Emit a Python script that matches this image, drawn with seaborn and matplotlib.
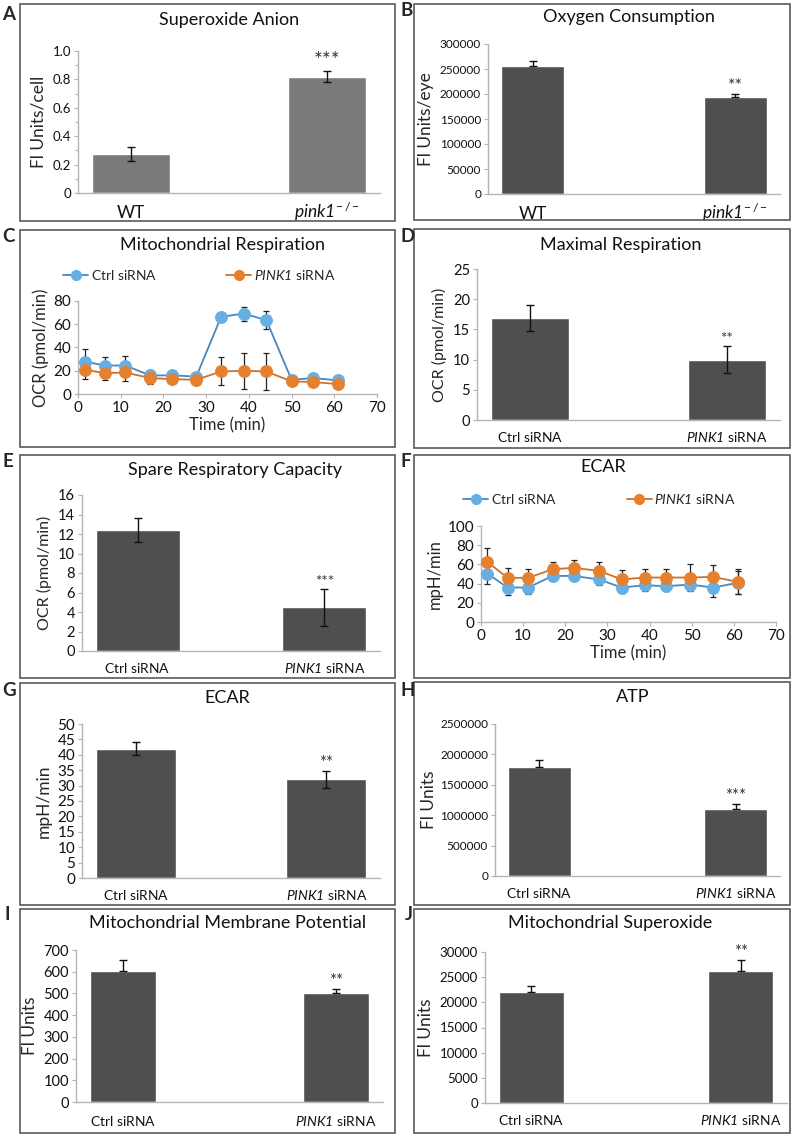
import matplotlib
matplotlib.use("Agg")
import matplotlib.pyplot as plt
from matplotlib.patches import Rectangle
from matplotlib.lines import Line2D
from matplotlib.ticker import MultipleLocator, FuncFormatter
import pandas as pd
import seaborn as sns

sns.set_theme(style="white")
plt.rcParams["font.family"] = ["Lato", "DejaVu Sans"]
plt.rcParams["mathtext.fontset"] = "custom"
plt.rcParams["mathtext.rm"] = "Lato"
plt.rcParams["mathtext.it"] = "Lato:italic"
plt.rcParams["mathtext.sf"] = "Lato:italic"   # \mathsf = italic incl. digits
plt.rcParams["mathtext.bf"] = "Lato:bold"

# ---------------- data ----------------
# all labels in mathtext so the italic ones line up with the plain ones
wt_groups = [r"$\mathrm{WT}$", r"$\mathsf{pink1}^{\!-/-}$"]
si_groups = [r"$\mathrm{Ctrl\ siRNA}$", r"$\mathsf{PINK1}\ \mathrm{siRNA}$"]

superoxide_anion = [0.275, 0.82]
superoxide_anion_err = [0.048, 0.04]

oxygen_consumption = [257000, 194000]
oxygen_consumption_err = [9000, 7000]

maximal_resp = [16.9, 10.0]
maximal_resp_err = [2.2, 2.2]

spare_capacity = [12.4, 4.5]
spare_capacity_err = [1.2, 1.9]

ecar_bar = [42.0, 32.0]
ecar_bar_err = [2.0, 2.8]

atp = [1800000, 1100000]
atp_err = [100000, 80000]

membrane_potential = [605, 502]
membrane_potential_err = [47, 18]

mito_superoxide = [22000, 26300]
mito_superoxide_err = [1250, 2200]

ocr_time = [1.6, 6.3, 11.1, 16.9, 22.0, 27.7, 33.5, 38.8, 44.1, 50.0, 55.1, 60.8]
ocr_ctrl = [27.9, 24.5, 24.5, 16.0, 16.0, 15.0, 66.4, 69.2, 63.5, 12.2, 13.7, 11.7]
ocr_ctrl_err = [11, 7.5, 8, 5, 3.5, 3, 2.5, 6, 7.5, 2, 2, 2]
ocr_pink1 = [20.8, 18.0, 18.5, 13.7, 12.8, 12.2, 19.4, 20.0, 19.4, 10.8, 10.3, 8.5]
ocr_pink1_err = [8, 6, 7, 5, 3, 3, 12, 15.5, 16, 2, 2, 2]

ecar_time = [1.5, 6.3, 11.2, 17.0, 22.0, 28.0, 33.4, 38.8, 44.0, 49.6, 55.1, 60.9]
ecar_ctrl = [50.5, 35.9, 35.9, 48.0, 48.0, 44.3, 35.9, 38.3, 37.3, 39.0, 35.9, 40.8]
ecar_ctrl_err = [10.5, 7.3, 7, 4, 3, 5.3, 5.2, 6, 5, 6, 10, 12]
ecar_pink1 = [62.7, 46.0, 46.0, 55.0, 56.4, 53.3, 44.3, 46.3, 46.3, 46.3, 47.0, 41.8]
ecar_pink1_err = [14, 10.4, 9, 7.7, 8, 9.4, 9.7, 8.7, 8.7, 14, 12, 13]

BAR_LIGHT = "#7a7a7a"
BAR_DARK = "#4f4f4f"
CTRL_LINE, CTRL_MARK = "#4a86bf", "#67aee3"
PINK_LINE, PINK_MARK = "#c9722c", "#e5802f"
SPINE = "#b4b4b4"

W, H = 800, 1140
fig = plt.figure(figsize=(W / 100, H / 100), dpi=100)


def px_axes(x0, y0, x1, y1):
    return fig.add_axes([x0 / W, 1 - y1 / H, (x1 - x0) / W, (y1 - y0) / H])


def panel_box(letter, x0, y0, x1, y1, lx, ly):
    fig.add_artist(Rectangle((x0 / W, 1 - y1 / H), (x1 - x0) / W, (y1 - y0) / H,
                             transform=fig.transFigure, fill=False,
                             ec="#5a5a5a", lw=1.2))
    fig.text(lx / W, 1 - ly / H, letter, fontsize=13.5, fontweight="bold",
             ha="left", va="center")


def title(text, cx, cy):
    fig.text(cx / W, 1 - cy / H, text, fontsize=13, ha="center", va="center",
             color="#111111")


def style_axes(ax, labelsize):
    sns.despine(ax=ax)
    for s in ("left", "bottom"):
        ax.spines[s].set_color(SPINE)
        ax.spines[s].set_linewidth(1.0)
    ax.tick_params(axis="y", which="both", left=True, length=3, width=0.8,
                   color=SPINE, labelsize=labelsize, labelcolor="#111111",
                   pad=2)
    ax.tick_params(axis="y", which="minor", length=2)


def bar_panel(ax, groups, vals, errs, color, width, step, ymax, ylabel,
              star, star_size, one_sided=False, ytick_size=9, xlab_size=10,
              xpad=10, minor=None, fmt=None, ylab_size=12.5, ylab_pad=4):
    df = pd.DataFrame({"group": groups, "value": vals})
    sns.barplot(data=df, x="group", y="value", ax=ax, color=color,
                width=width, saturation=1, errorbar=None)
    yerr = [[0, 0], errs] if one_sided else errs
    ax.errorbar([0, 1], vals, yerr=yerr, fmt="none", ecolor="#111111",
                elinewidth=1, capsize=3, capthick=1, zorder=3)
    ax.set_ylim(0, ymax)
    ax.yaxis.set_major_locator(MultipleLocator(step))
    if minor:
        ax.yaxis.set_minor_locator(MultipleLocator(minor))
    if fmt:
        ax.yaxis.set_major_formatter(FuncFormatter(fmt))
    else:
        ax.yaxis.set_major_formatter(FuncFormatter(lambda v, p: f"{v:.0f}"))
    ax.set_xlabel("")
    ax.set_ylabel(ylabel, fontsize=ylab_size, labelpad=ylab_pad)
    style_axes(ax, ytick_size)
    ax.tick_params(axis="x", bottom=False, labelsize=xlab_size, pad=xpad,
                   labelcolor="#111111")
    # align category labels on their baseline
    for lab in ax.get_xticklabels():
        lab.set_verticalalignment("baseline")
    ax.annotate(star, (1, vals[1] + errs[1]), xytext=(0, 0),
                textcoords="offset points", ha="center", va="bottom",
                fontsize=star_size, color="#333333")


def line_panel(ax, t, ctrl, ctrl_err, pink, pink_err, ymax, step, ylabel,
               leg_xy):
    for vals, errs, lc, mc in ((ctrl, ctrl_err, CTRL_LINE, CTRL_MARK),
                               (pink, pink_err, PINK_LINE, PINK_MARK)):
        ax.errorbar(t, vals, yerr=errs, fmt="none", ecolor="#222222",
                    elinewidth=0.9, capsize=2.5, capthick=0.9, zorder=2)
        sns.lineplot(x=t, y=vals, ax=ax, color=lc, lw=1.3, marker="o",
                     markersize=8.5, markerfacecolor=mc, markeredgecolor=mc,
                     zorder=3)
    ax.set_xlim(0, 70)
    ax.set_ylim(0, ymax)
    ax.xaxis.set_major_locator(MultipleLocator(10))
    ax.yaxis.set_major_locator(MultipleLocator(step))
    ax.set_ylabel(ylabel, fontsize=12, labelpad=3)
    ax.set_xlabel("Time (min)", fontsize=12, labelpad=2)
    style_axes(ax, 11)
    ax.tick_params(axis="x", bottom=True, length=3, width=0.8, color=SPINE,
                   labelsize=11, labelcolor="#111111", pad=2)
    handles = [Line2D([], [], color=CTRL_LINE, lw=1.3, marker="o", ms=7,
                      mfc=CTRL_MARK, mec=CTRL_MARK),
               Line2D([], [], color=PINK_LINE, lw=1.3, marker="o", ms=7,
                      mfc=PINK_MARK, mec=PINK_MARK)]
    ax.legend(handles, si_groups, ncol=2, frameon=False, loc="center left",
              bbox_to_anchor=leg_xy, borderaxespad=0, borderpad=0,
              handlelength=1.8, handletextpad=0.2, columnspacing=5.0,
              fontsize=10)


# ---------------- panel frames, letters, titles ----------------
panel_box("A", 20, 4, 395, 221, 2, 15)
panel_box("B", 414, 4, 790, 220, 401, 11)
panel_box("C", 20, 230, 395, 447, 2, 237)
panel_box("D", 414, 229, 790, 448, 401, 236)
panel_box("E", 20, 455, 395, 678, 2, 462)
panel_box("F", 414, 455, 790, 678, 401, 462)
panel_box("G", 20, 683, 395, 905, 2, 690)
panel_box("H", 414, 682, 790, 905, 401, 690)
panel_box("I", 20, 909, 395, 1133, 4, 914)
panel_box("J", 414, 909, 790, 1133, 405, 914)

title("Superoxide Anion", 229, 20)
title("Oxygen Consumption", 629, 17)
title("Mitochondrial Respiration", 223, 245)
title("Maximal Respiration", 621, 245)
title("Spare Respiratory Capacity", 235, 470)
title("ECAR", 603, 467)
title("ECAR", 227, 698)
title("ATP", 633, 697)
title("Mitochondrial Membrane Potential", 228, 923)
title("Mitochondrial Superoxide", 610, 923)

# ---------------- A ----------------
ax = px_axes(78, 51, 380, 193)
bar_panel(ax, wt_groups, superoxide_anion, superoxide_anion_err, BAR_LIGHT,
          0.4, 0.2, 1.0, "Fl Units/cell", "***", 15, ytick_size=9.5,
          xlab_size=12.5, xpad=12, minor=0.1,
          fmt=lambda v, p: "0" if v == 0 else f"{v:.1f}")

# ---------------- B ----------------
ax = px_axes(488, 44, 780, 194)
bar_panel(ax, wt_groups, oxygen_consumption, oxygen_consumption_err, BAR_DARK,
          0.31, 50000, 300000, "Fl Units/eye", "**", 13, one_sided=True,
          ytick_size=8.5, xlab_size=12.5, xpad=12)

# ---------------- C ----------------
ax = px_axes(78, 301, 377, 394)
line_panel(ax, ocr_time, ocr_ctrl, ocr_ctrl_err, ocr_pink1, ocr_pink1_err,
           80, 20, "OCR (pmol/min)", (-0.05, 1.28))

# ---------------- D ----------------
ax = px_axes(477, 269, 780, 420)
bar_panel(ax, si_groups, maximal_resp, maximal_resp_err, BAR_DARK, 0.4, 5, 25,
          "OCR (pmol/min)", "**", 11, ytick_size=10.5, xpad=9.5,
          ylab_size=11.5)

# ---------------- E ----------------
ax = px_axes(82, 495, 380, 651)
bar_panel(ax, si_groups, spare_capacity, spare_capacity_err, BAR_DARK, 0.45,
          2, 16, "OCR (pmol/min)", "***", 11, ytick_size=10.5, xpad=10,
          ylab_size=11.5)

# ---------------- F ----------------
ax = px_axes(481, 526, 776, 622)
line_panel(ax, ecar_time, ecar_ctrl, ecar_ctrl_err, ecar_pink1, ecar_pink1_err,
           100, 20, "mpH/min", (-0.06, 1.28))

# ---------------- G ----------------
ax = px_axes(82, 724, 380, 878)
bar_panel(ax, si_groups, ecar_bar, ecar_bar_err, BAR_DARK, 0.42, 5, 50,
          "mpH/min", "**", 12, ytick_size=11, xpad=10)

# ---------------- H ----------------
ax = px_axes(495, 724, 780, 876)
bar_panel(ax, si_groups, atp, atp_err, BAR_DARK, 0.32, 500000, 2500000,
          "Fl Units", "***", 12, one_sided=True, ytick_size=8.5, xpad=10,
          ylab_pad=2)

# ---------------- I ----------------
ax = px_axes(76, 950, 383, 1102)
bar_panel(ax, si_groups, membrane_potential, membrane_potential_err, BAR_DARK,
          0.31, 100, 700, "Fl Units", "**", 12, one_sided=True,
          ytick_size=10.5, xpad=11)

# ---------------- J ----------------
ax = px_axes(485, 952, 787, 1103)
bar_panel(ax, si_groups, mito_superoxide, mito_superoxide_err, BAR_DARK,
          0.31, 5000, 30000, "Fl Units", "**", 12, one_sided=True,
          ytick_size=9.5, xpad=10)

fig.savefig("out.png", dpi=100, facecolor="white")
